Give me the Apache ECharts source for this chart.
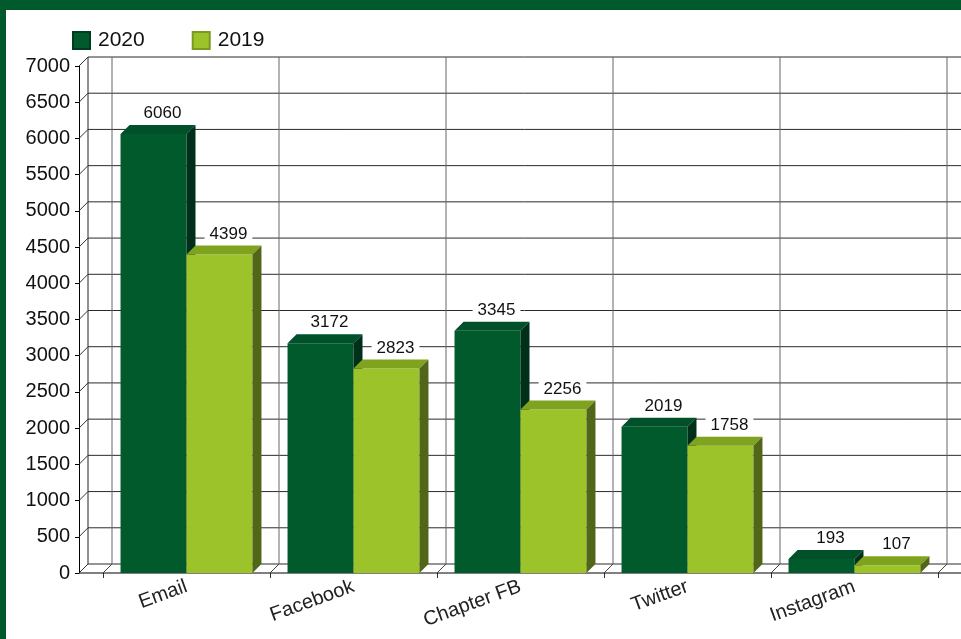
<!DOCTYPE html>
<html lang="en">
<head>
<meta charset="UTF-8">
<title>Channels 2020 vs 2019</title>
<script src="https://cdn.jsdelivr.net/npm/echarts@6/dist/echarts.min.js"></script>
<style>
html, body { margin: 0; padding: 0; background: #fff; }
#chart { position: absolute; left: 0; top: 0; width: 961px; height: 639px; }
.band-top { position: absolute; left: 0; top: 0; width: 961px; height: 10px; background: #005a2c; z-index: 5; }
.band-left { position: absolute; left: 0; top: 0; width: 6px; height: 639px; background: #005a2c; z-index: 5; }
</style>
</head>
<body>
<div id="chart"></div>
<div class="band-top"></div>
<div class="band-left"></div>
<script>
const categories = ['Email', 'Facebook', 'Chapter FB', 'Twitter', 'Instagram'];
const values2020 = [6060, 3172, 3345, 2019, 193];
const values2019 = [4399, 2823, 2256, 1758, 107];
const yTicks = [0, 500, 1000, 1500, 2000, 2500, 3000, 3500, 4000, 4500, 5000, 5500, 6000, 6500, 7000];

const FONT = '"Liberation Sans", Arial, sans-serif';
const D = 9; // depth of the 3d look
const AXIS_X = 79; // front y axis
const RIGHT_EDGE = 961;

const colors = {
  '2020': { front: '#005a2c', top: '#00502a', side: '#00301a' },
  '2019': { front: '#9cc42a', top: '#7fa31e', side: '#526619' }
};

function bar3d(side, pal) {
  return function (params, api) {
    const cat = api.value(0), val = api.value(1);
    const top = api.coord([cat, val]);
    const base = api.coord([cat, 0]);
    const bw = api.size([1, 0])[0] * 0.395;
    const x0 = side === 0 ? top[0] - bw : top[0];
    const x1 = x0 + bw;
    const y1 = top[1], y0 = base[1];
    return {
      type: 'group',
      children: [
        { type: 'rect', shape: { x: x0, y: y1, width: bw, height: y0 - y1 }, style: { fill: pal.front } },
        { type: 'polygon', shape: { points: [[x0, y1], [x0 + D, y1 - D], [x1 + D, y1 - D], [x1, y1]] }, style: { fill: pal.top } },
        { type: 'polygon', shape: { points: [[x1, y1], [x1 + D, y1 - D], [x1 + D, y0 - D], [x1, y0]] }, style: { fill: pal.side } },
        {
          type: 'text',
          x: x0 + bw / 2 + D, y: y1 - 12,
          style: {
            text: String(val), fill: '#111', font: '17px ' + FONT,
            align: 'center', verticalAlign: 'bottom',
            backgroundColor: '#fff', padding: [1, 5, 0, 5]
          }
        }
      ]
    };
  };
}

function lineEl(x1, y1, x2, y2, color) {
  return { type: 'line', shape: { x1: x1, y1: y1, x2: x2, y2: y2 }, style: { stroke: color, lineWidth: 1 } };
}

// back wall horizontals + left wall diagonals, one per y tick
function frameRows(params, api) {
  const v = api.value(1);
  const y = api.coord([0, v])[1];
  const top = api.coord([0, yTicks[yTicks.length - 1]])[1];
  const bottom = api.coord([0, 0])[1];
  const kids = [
    lineEl(AXIS_X + D, y - D, RIGHT_EDGE, y - D, '#2a2a2a'),
    lineEl(AXIS_X, y, AXIS_X + D, y - D, '#333')
  ];
  if (v === 0) {
    kids.push(lineEl(AXIS_X + D, top - D, AXIS_X + D, bottom - D, '#222'));
    kids.push(lineEl(AXIS_X, bottom, RIGHT_EDGE, bottom, '#000'));
  }
  return { type: 'group', children: kids };
}

// back wall verticals + floor diagonals, at category boundaries
function frameCols(params, api) {
  const i = api.value(0);
  const c = api.coord([i, 0]);
  const half = api.size([1, 0])[0] / 2;
  const top = api.coord([i, yTicks[yTicks.length - 1]])[1];
  const kids = [];
  const xs = [c[0] - half];
  if (i === categories.length - 1) xs.push(c[0] + half);
  xs.forEach(function (b) {
    kids.push(lineEl(b + D, top - D, b + D, c[1] - D, '#666'));
    kids.push(lineEl(b, c[1], b + D, c[1] - D, '#444'));
  });
  return { type: 'group', children: kids };
}

const chart = echarts.init(document.getElementById('chart'));
chart.setOption({
  animation: false,
  textStyle: { fontFamily: FONT },
  legend: {
    left: 67, top: 25,
    icon: 'rect',
    itemWidth: 17, itemHeight: 17, itemGap: 47,
    textStyle: { fontSize: 21, color: '#111', padding: [0, 0, 0, 3] },
    data: ['2020', '2019']
  },
  grid: { left: 103, right: 23, top: 66, bottom: 66 },
  xAxis: {
    type: 'category',
    data: categories,
    axisLine: { show: false },
    axisTick: { show: true, length: 5, lineStyle: { color: '#333' } },
    axisLabel: { rotate: 20, fontSize: 20, color: '#222', margin: 13 },
    splitLine: { show: false }
  },
  yAxis: {
    type: 'value',
    min: 0, max: 7000, interval: 500,
    offset: 24,
    axisLine: { show: true, lineStyle: { color: '#000' } },
    axisTick: { show: true, length: 4, lineStyle: { color: '#000' } },
    axisLabel: { fontSize: 20, color: '#111', margin: 9, formatter: function (v) { return String(v); } },
    splitLine: { show: false }
  },
  series: [
    {
      type: 'custom', name: 'rows', z: 1, clip: false,
      renderItem: frameRows,
      data: yTicks.map(function (v) { return [0, v]; }),
      silent: true
    },
    {
      type: 'custom', name: 'cols', z: 1, clip: false,
      renderItem: frameCols,
      data: categories.map(function (c, i) { return [i, 0]; }),
      silent: true
    },
    {
      type: 'custom', name: '2020', z: 3, clip: false,
      itemStyle: { color: colors['2020'].front, borderColor: '#003d1e', borderWidth: 1 },
      renderItem: bar3d(0, colors['2020']),
      data: values2020.map(function (v, i) { return [i, v]; })
    },
    {
      type: 'custom', name: '2019', z: 3, clip: false,
      itemStyle: { color: colors['2019'].front, borderColor: '#7a9a20', borderWidth: 1 },
      renderItem: bar3d(1, colors['2019']),
      data: values2019.map(function (v, i) { return [i, v]; })
    }
  ]
});
</script>
</body>
</html>
